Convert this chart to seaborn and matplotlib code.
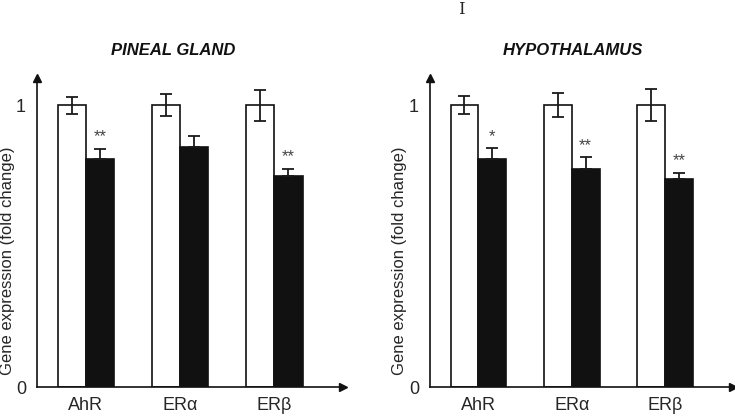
import pandas as pd
import numpy as np
import matplotlib.pyplot as plt
import seaborn as sns

genes = ['AhR', 'ER\u03b1', 'ER\u03b2']
groups = ['control', 'treated']
tissues = ['PINEAL GLAND', 'HYPOTHALAMUS']

pineal_control = [1.0, 1.0, 1.0]
pineal_control_err = [0.03, 0.04, 0.055]
pineal_treated = [0.807, 0.85, 0.749]
pineal_treated_err = [0.038, 0.041, 0.025]
pineal_stars = ['**', '', '**']

hypo_control = [1.0, 1.0, 1.0]
hypo_control_err = [0.031, 0.044, 0.056]
hypo_treated = [0.807, 0.775, 0.736]
hypo_treated_err = [0.039, 0.041, 0.024]
hypo_stars = ['*', '**', '**']

sns.set_style('white')
plt.rcParams['font.family'] = ['Liberation Sans', 'DejaVu Sans']

fig = plt.figure(figsize=(7.35, 4.2), dpi=100)
ax_pos = [[37/735, 33/420, 306/735, 309/420], [430/735, 33/420, 303/735, 309/420]]
title_x = [0.444, 0.472]
label_x = [-0.072, -0.076]

panels = [
    (pineal_control, pineal_control_err, pineal_treated, pineal_treated_err, pineal_stars),
    (hypo_control, hypo_control_err, hypo_treated, hypo_treated_err, hypo_stars),
]

for i, (ctrl, ctrl_err, trt, trt_err, stars) in enumerate(panels):
    ax = fig.add_axes(ax_pos[i])
    df = pd.DataFrame({
        'gene': genes * 2,
        'group': [groups[0]] * 3 + [groups[1]] * 3,
        'value': ctrl + trt,
        'err': ctrl_err + trt_err,
    })
    sns.barplot(data=df, x='gene', y='value', hue='group', order=genes, hue_order=groups,
                palette={'control': 'white', 'treated': '#111111'}, edgecolor='#111111',
                linewidth=1.2, width=0.6, gap=0, errorbar=None, legend=False, ax=ax)

    # error bars (only the upper half shows on the dark bars) and stars
    for k, g in enumerate(groups):
        sub = df[df['group'] == g]
        bars = ax.containers[k]
        for bar, (_, row) in zip(bars, sub.iterrows()):
            xc = bar.get_x() + bar.get_width() / 2
            if g == 'control':
                yerr = row['err']
            else:
                yerr = [[0], [row['err']]]
            ax.errorbar(xc, row['value'], yerr=yerr, fmt='none', ecolor='#1a1a1a',
                        elinewidth=1.3, capsize=4, capthick=1.3)
            if g == 'treated':
                j = genes.index(row['gene'])
                if stars[j]:
                    ax.text(xc, row['value'] + row['err'] + 0.015, stars[j], ha='center',
                            va='bottom', fontsize=12, color='#444444')

    ax.set_xlim(-0.52, 2.73)
    ax.set_ylim(0, 1.096)
    ax.set_yticks([0, 1])
    ax.set_yticklabels(['0', '1'], fontsize=13)
    ax.tick_params(axis='y', direction='inout', length=14, width=1.2, pad=1)
    ax.yaxis.get_major_ticks()[0].tick1line.set_visible(False)
    ax.tick_params(axis='x', length=0, pad=7, labelsize=13)
    ax.set_xlabel('')
    ax.set_ylabel('Gene expression (fold change)', fontsize=12)
    ax.yaxis.set_label_coords(label_x[i], 0.41)
    for s in ['top', 'right']:
        ax.spines[s].set_visible(False)
    for s in ['left', 'bottom']:
        ax.spines[s].set_linewidth(1.2)
        ax.spines[s].set_color('#111111')
    ax.plot(1, 0, '>', color='#111111', markersize=6, transform=ax.transAxes, clip_on=False)
    ax.plot(0, 1, '^', color='#111111', markersize=6, transform=ax.transAxes, clip_on=False)
    ax.text(title_x[i], 1.09, tissues[i], transform=ax.transAxes, ha='center', va='center',
            fontsize=12, fontweight='bold', style='italic', color='#111111')

fig.text(461/735, 1 - 10/420, 'I', family='DejaVu Serif', fontsize=12, ha='center', va='center')

plt.savefig('out.png', dpi=100)
